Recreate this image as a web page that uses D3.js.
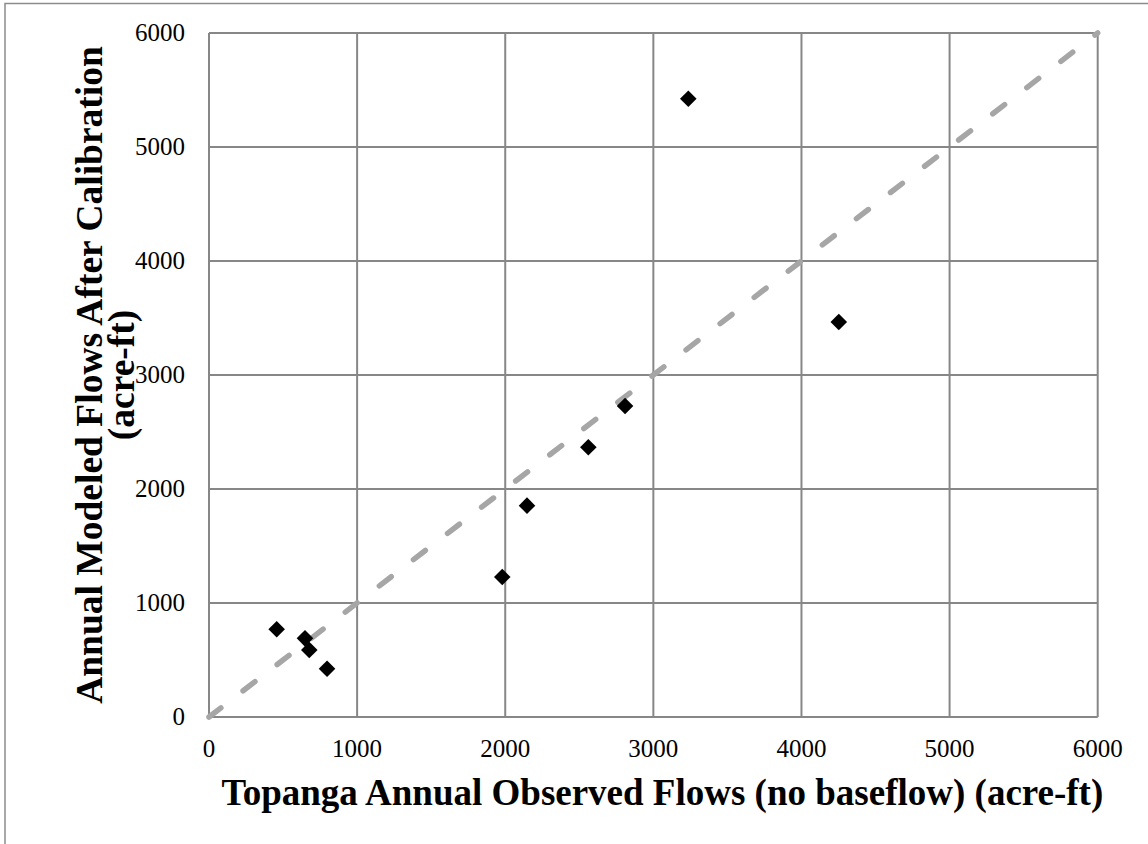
<!DOCTYPE html>
<html>
<head>
<meta charset="utf-8">
<script src="https://cdn.jsdelivr.net/npm/d3@7"></script>
<style>
  body { margin: 0; background: #fff; }
  text { font-family: "Liberation Serif", "Times New Roman", serif; fill: #000; }
</style>
</head>
<body>
<div id="chart"></div>
<script>
// observed vs modeled annual flows (acre-ft)
const observed = [457, 648, 677, 797, 1980, 2147, 2561, 2809, 3236, 4252]
const modeled = [769, 690, 588, 424, 1228, 1854, 2366, 2728, 5424, 3465]
const xTicks = [0, 1000, 2000, 3000, 4000, 5000, 6000]
const yTicks = [0, 1000, 2000, 3000, 4000, 5000, 6000]
const oneToOne = [0, 6000]

const width = 1148
const height = 844
const margin = { top: 33, right: 50, bottom: 127, left: 209 }

const svg = d3.select('#chart').append('svg').attr('width', width).attr('height', height)

// outer chart border
svg.append('rect')
  .attr('x', 5).attr('y', 3.5)
  .attr('width', width + 10).attr('height', height + 10)
  .attr('fill', 'none').attr('stroke', '#8c8c8c').attr('stroke-width', 1.5)

const x = d3.scaleLinear().domain([0, 6000]).range([margin.left, width - margin.right - 0.3])
const y = d3.scaleLinear().domain([0, 6000]).range([height - margin.bottom, margin.top])

const grid = svg.append('g').attr('stroke', '#878787').attr('stroke-width', 2)
grid.selectAll('.vx').data(xTicks).join('line')
  .attr('x1', d => x(d)).attr('x2', d => x(d))
  .attr('y1', y(0)).attr('y2', y(6000))
grid.selectAll('.hy').data(yTicks).join('line')
  .attr('y1', d => y(d)).attr('y2', d => y(d))
  .attr('x1', x(0)).attr('x2', x(6000))

// tick labels
svg.append('g').selectAll('text').data(xTicks).join('text')
  .attr('x', d => x(d)).attr('y', y(0) + 40)
  .attr('text-anchor', 'middle').attr('font-size', 25)
  .text(d => d)
svg.append('g').selectAll('text').data(yTicks).join('text')
  .attr('x', x(0) - 24).attr('y', d => y(d) + 8)
  .attr('text-anchor', 'end').attr('font-size', 25)
  .text(d => d)

// 1:1 line
svg.append('line')
  .attr('x1', x(oneToOne[0])).attr('y1', y(oneToOne[0]))
  .attr('x2', x(oneToOne[1])).attr('y2', y(oneToOne[1]))
  .attr('stroke', '#a6a6a6').attr('stroke-width', 5.5)
  .attr('stroke-dasharray', '15 28').attr('stroke-linecap', 'round')

const pts = observed.map((o, i) => ({ o, m: modeled[i] }))
svg.append('g').selectAll('path').data(pts).join('path')
  .attr('d', d3.symbol(d3.symbolDiamond2, 175))
  .attr('transform', d => `translate(${x(d.o)},${y(d.m)})`)
  .attr('fill', '#000')

svg.append('text')
  .attr('x', (x(0) + x(6000)) / 2 + 9).attr('y', 805)
  .attr('text-anchor', 'middle').attr('font-size', 37).attr('font-weight', 'bold')
  .text('Topanga Annual Observed Flows (no baseflow) (acre-ft)')

const yt = svg.append('text')
  .attr('transform', `translate(102,${(y(0) + y(6000)) / 2}) rotate(-90)`)
  .attr('text-anchor', 'middle').attr('font-size', 37.5).attr('font-weight', 'bold')
yt.append('tspan').attr('x', 0).attr('y', 0).text('Annual Modeled Flows After Calibration')
yt.append('tspan').attr('x', 0).attr('y', 32).text('(acre-ft)')
</script>
</body>
</html>
